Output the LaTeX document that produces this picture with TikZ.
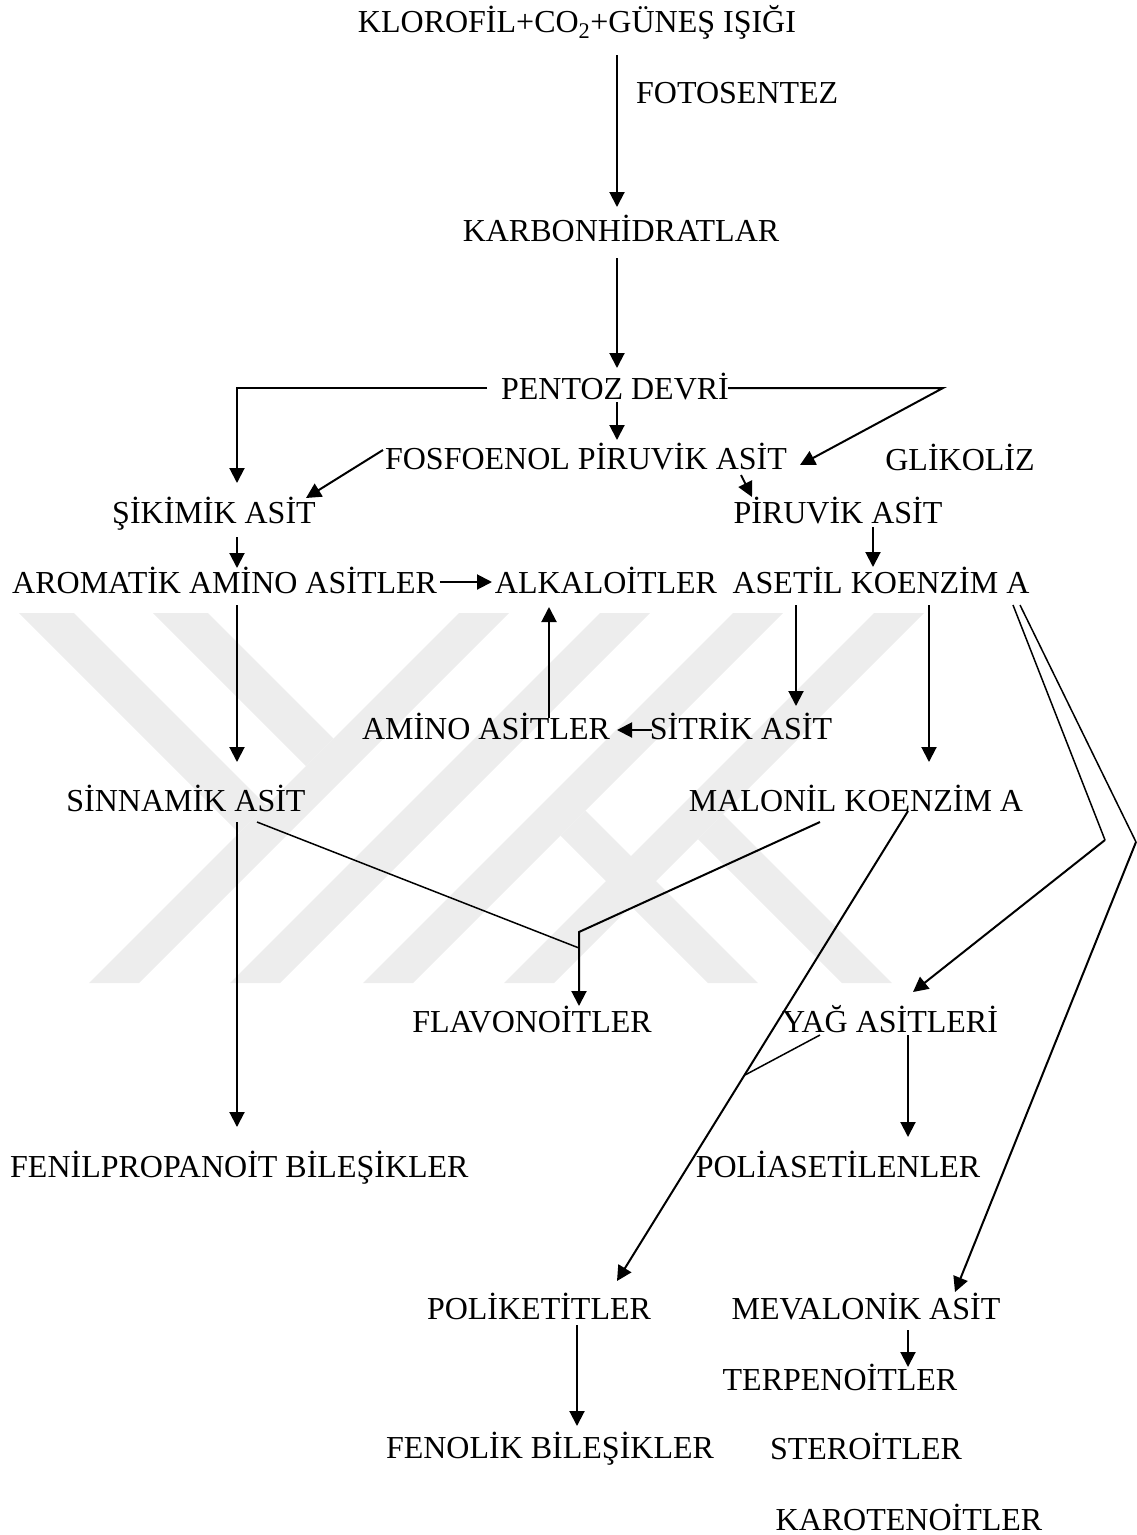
\documentclass[tikz,border=0pt]{standalone}
\usepackage{fontspec}
\setmainfont{Liberation Serif}
\usetikzlibrary{arrows.meta,calc}
\tikzset{
	term/.style={inner sep=0pt,anchor=base,font=\fontsize{32}{38}\selectfont},
	flow/.style={line width=2pt,-{Triangle[length=15pt,width=15pt]}},
	link/.style={line width=1.5pt},
	wmband/.style={fill=black!7,draw=none}
}

\begin{document}
\begin{tikzpicture}[x=1pt,y=-1pt]
\useasboundingbox (0,0) rectangle (1136,1535);
% faint watermark
\foreach \t in {459,600,733,874}
  \fill[wmband] (\t,613) -- ++(50,0) -- ++(-370,370) -- ++(-50,0) -- cycle;
\fill[wmband] (19,613) -- (74,613) -- (266.5,805.5) -- (239,833) -- cycle;
\fill[wmband] (153,613) -- (208,613) -- (333.5,738.5) -- (306,766) -- cycle;
\fill[wmband] (708,983) -- (758,983) -- (585.5,810.5) -- (560.5,835.5) -- cycle;
\fill[wmband] (842,983) -- (892,983) -- (723,814) -- (698,839) -- cycle;
%
\begin{scope}[every node/.style=term]
\node (klo) at (577,32) {KLOROFİL+CO\textsubscript{2}+GÜNEŞ IŞIĞI};
\node[anchor=base west] (foto) at (636,103) {FOTOSENTEZ};
\node (karb) at (621,241) {KARBONHİDRATLAR};
\node (pent) at (615,399) {PENTOZ DEVRİ};
\node (fosf) at (586,469) {FOSFOENOL PİRUVİK ASİT};
\node (glik) at (960,470) {GLİKOLİZ};
\node (siki) at (214,523) {ŞİKİMİK ASİT};
\node (piru) at (838,523) {PİRUVİK ASİT};
\node[anchor=base west] (arom) at (12,593) {AROMATİK AMİNO ASİTLER};
\node (alka) at (606,593) {ALKALOİTLER};
\node (aset) at (881,593) {ASETİL KOENZİM A};
\node (amin) at (486,739) {AMİNO ASİTLER};
\node (sitr) at (741,739) {SİTRİK ASİT};
\node (sinn) at (186,811) {SİNNAMİK ASİT};
\node (malo) at (856,811) {MALONİL KOENZİM A};
\node (flav) at (532,1032) {FLAVONOİTLER};
\node (yag) at (890,1032) {YAĞ ASİTLERİ};
\node[anchor=base west] (feni) at (10,1177) {FENİLPROPANOİT BİLEŞİKLER};
\node (poli) at (838,1177) {POLİASETİLENLER};
\node (polk) at (539,1319) {POLİKETİTLER};
\node (meva) at (866,1319) {MEVALONİK ASİT};
\node (terp) at (840,1390) {TERPENOİTLER};
\node (feno) at (550,1458) {FENOLİK BİLEŞİKLER};
\node (ster) at (866,1459) {STEROİTLER};
\node (karo) at (909,1530) {KAROTENOİTLER};
\end{scope}
% bends and junctions
\coordinate (pl) at (237,388);
\coordinate (pr) at (943,388);
\coordinate (fj1) at (579,948);
\coordinate (fj2) at (579,932);
\coordinate (yj) at (745,1075);
\coordinate (k1) at (1105,840);
\coordinate (k2) at (1136,842);
%
\draw[flow] ($(klo.base)+(40,23)$) to ($(karb.base)+(-4,-34)$);
\draw[flow] ($(karb.base)+(-4,17)$) to ($(pent.base)+(2,-31)$);
\draw[flow] ($(pent.base)+(-128,-11)$) to (pl) to ($(siki.base)+(23,-40)$);
\draw[flow] ($(pent.base)+(113,-11)$) to (pr) to ($(fosf.base)+(214,-4)$);
\draw[flow] ($(pent.base)+(2,3)$) to ($(fosf.base)+(31,-29)$);
\draw[flow] ($(fosf.base)+(-203,-19)$) to ($(siki.base)+(92,-25)$);
\draw[flow] ($(fosf.base)+(155,6)$) to ($(piru.base)+(-86,-26)$);
\draw[flow] ($(piru.base)+(35,4)$) to ($(aset.base)+(-8,-26)$);
\draw[flow] ($(siki.base)+(23,14)$) to ($(arom.base west)+(225,-25)$);
\draw[flow] ($(arom.base west)+(428,-11)$) to ($(alka.base)+(-114,-11)$);
\draw[flow] ($(arom.base west)+(225,12)$) to ($(sinn.base)+(51,-49)$);
\draw[flow] ($(amin.base)+(63,-21)$) to ($(alka.base)+(-57,14)$);
\draw[flow] ($(aset.base)+(-85,12)$) to ($(sitr.base)+(55,-33)$);
\draw[flow] ($(sitr.base)+(-89,-9)$) to ($(amin.base)+(131,-9)$);
\draw[flow] ($(aset.base)+(48,12)$) to ($(malo.base)+(73,-49)$);
\draw[flow] ($(sinn.base)+(51,11)$) to ($(feni.base west)+(227,-50)$);
\draw[link] ($(sinn.base)+(71,11)$) to (fj1);
\draw[flow] ($(malo.base)+(-36,11)$) to (fj2) to ($(flav.base)+(47,-26)$);
\draw[flow] ($(malo.base)+(52,0)$) to ($(polk.base)+(78,-38)$);
\draw[link] ($(yag.base)+(-70,3)$) to (yj);
\draw[link] ($(aset.base)+(132,12)$) to (k1);
\draw[flow] (k1) to ($(yag.base)+(23,-40)$);
\draw[link] ($(aset.base)+(139,12)$) to (k2);
\draw[flow] (k2) to ($(meva.base)+(89,-27)$);
\draw[flow] ($(yag.base)+(18,3)$) to ($(poli.base)+(70,-40)$);
\draw[flow] ($(polk.base)+(38,6)$) to ($(feno.base)+(27,-32)$);
\draw[flow] ($(meva.base)+(42,11)$) to ($(terp.base)+(68,-23)$);
\end{tikzpicture}
\end{document}
